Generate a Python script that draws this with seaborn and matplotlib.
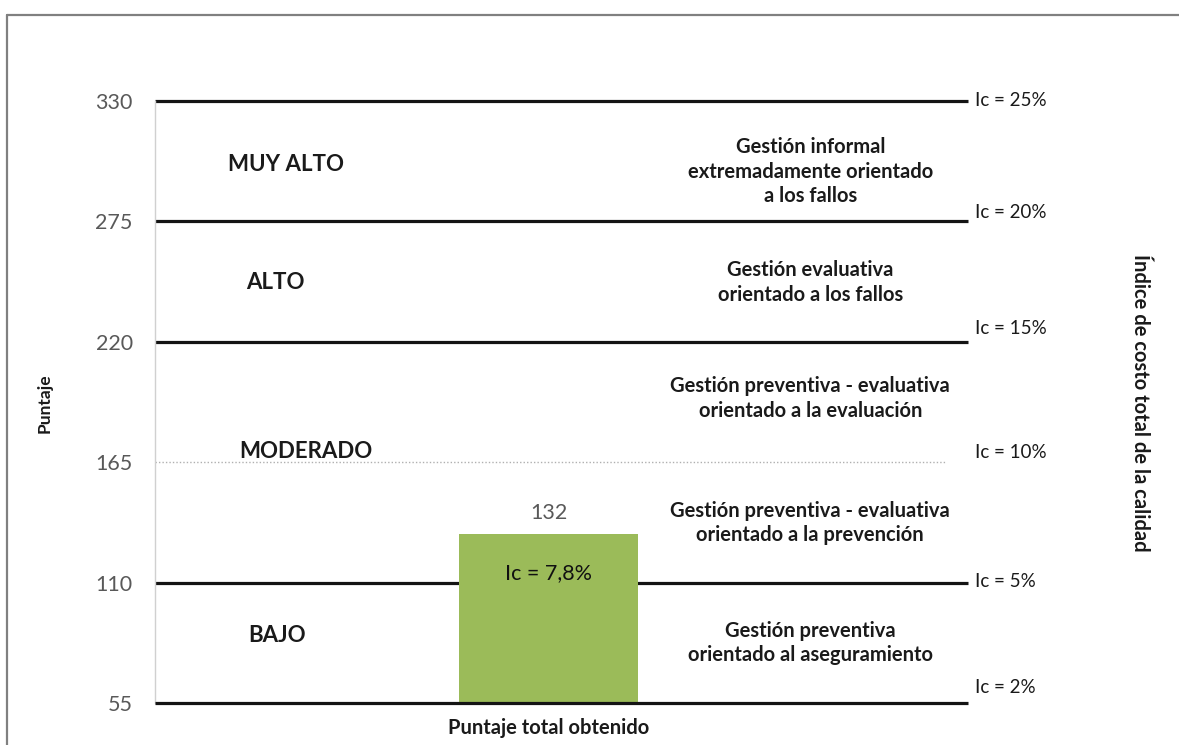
import matplotlib
matplotlib.use("Agg")
import matplotlib.pyplot as plt
import matplotlib.transforms as mtransforms
from matplotlib.lines import Line2D
import seaborn as sns
import pandas as pd

# --- data -------------------------------------------------------------
category = ["Puntaje total obtenido"]
score = [132]
score_ic = "Ic = 7,8%"

tick_values = [55, 110, 165, 220, 275, 330]
band_edges = [55, 110, 220, 275, 330]          # solid limits
moderate_split = 165                            # dotted limit

ic_labels = ["Ic = 2%", "Ic = 5%", "Ic = 10%", "Ic = 15%", "Ic = 20%", "Ic = 25%"]

level_names = ["MUY ALTO", "ALTO", "MODERADO", "BAJO"]
level_y = [300.8, 247, 169.7, 86]

management = [
    "Gestión informal\nextremadamente orientado\na los fallos",
    "Gestión evaluativa\norientado a los fallos",
    "Gestión preventiva - evaluativa\norientado a la evaluación",
    "Gestión preventiva - evaluativa\norientado a la prevención",
    "Gestión preventiva\norientado al aseguramiento",
]
management_y = [297.6, 247, 194, 137.2, 82.4]

# --- style ------------------------------------------------------------
sns.set_theme(style="white")
plt.rcParams["font.family"] = ["Lato", "DejaVu Sans"]

W, H = 1179, 745
fig = plt.figure(figsize=(W / 100, H / 100), dpi=100)
ax = fig.add_axes([155 / W, 42 / H, 813 / W, 602 / H])

df = pd.DataFrame({"cat": category, "score": score})
sns.barplot(data=df, x="cat", y="score", color="#9BBB59", saturation=1,
            width=0.8, ax=ax, zorder=3)
bar = ax.patches[0]
bar.set_edgecolor("none")

ax.set_xlim(-1.759, 1.874)
ax.set_ylim(55, 330)
ax.set_yticks(tick_values)
ax.set_yticklabels([str(v) for v in tick_values])
ax.tick_params(axis="y", length=0, pad=16, labelsize=15.5, labelcolor="#595959")
ax.tick_params(axis="x", length=0, pad=11)
for lbl in ax.get_xticklabels():
    lbl.set_fontweight("bold")
    lbl.set_fontsize(14.5)
    lbl.set_color("#1a1a1a")
ax.set_xlabel("")
ax.set_ylabel("")

for s in ["top", "right", "bottom"]:
    ax.spines[s].set_visible(False)
ax.spines["left"].set_color("#d0d0d0")
ax.spines["left"].set_linewidth(1.0)

# band limits
for v in band_edges:
    ax.axhline(v, xmin=0, xmax=1, color="#141414", lw=2.3, zorder=2 if v != 55 else 4,
               clip_on=False, solid_capstyle="butt")
ax.axhline(moderate_split, xmin=0, xmax=0.972, color="#b0b0b0", lw=1.0,
           ls=(0, (1, 1.5)), zorder=2)

# value labels on the bar
ax.bar_label(ax.containers[0], labels=[str(score[0])], padding=8,
             fontsize=15.5, color="#595959")
ax.text(0, 114.4, score_ic, ha="center", va="center", fontsize=15.5,
        color="#111111", zorder=5)

blend = mtransforms.blended_transform_factory(ax.transAxes, ax.transData)

# level names
level_x = [0.161, 0.148, 0.185, 0.150]
for name, y, x in zip(level_names, level_y, level_x):
    ax.text(x, y, name, transform=blend, ha="center", va="center",
            fontsize=16, fontweight="bold", color="#1a1a1a")

# management descriptions
for txt, y in zip(management, management_y):
    ax.text(0.806, y, txt, transform=blend, ha="center", va="center",
            fontsize=14.5, fontweight="bold", color="#1a1a1a", linespacing=1.28)

# Ic labels at the right end of each limit
ic_offsets = [6.9, 0.7, 4.6, 6.0, 4.0, 0.0]
for lab, v, off in zip(ic_labels, tick_values, ic_offsets):
    ax.text(1.0086, v + off, lab, transform=blend, ha="left", va="center",
            fontsize=13.5, color="#1a1a1a", clip_on=False)

# axis titles
ax.text(-0.136, 0.498, "Puntaje", transform=ax.transAxes, rotation=90,
        ha="center", va="center", fontsize=12.5, fontweight="bold", color="#1a1a1a")
ax.text(1.2116, 0.498, "Índice de costo total de la calidad", transform=ax.transAxes,
        rotation=-90, ha="center", va="center", fontsize=14.5, fontweight="bold",
        color="#1a1a1a")

# outer frame
fig.add_artist(Line2D([6.5 / W, 1.0], [1 - 14.5 / H, 1 - 14.5 / H],
                      transform=fig.transFigure, color="#808080", lw=1.6))
fig.add_artist(Line2D([6.5 / W, 6.5 / W], [0, 1 - 14.5 / H],
                      transform=fig.transFigure, color="#808080", lw=1.6))

fig.savefig("out.png", dpi=100)
